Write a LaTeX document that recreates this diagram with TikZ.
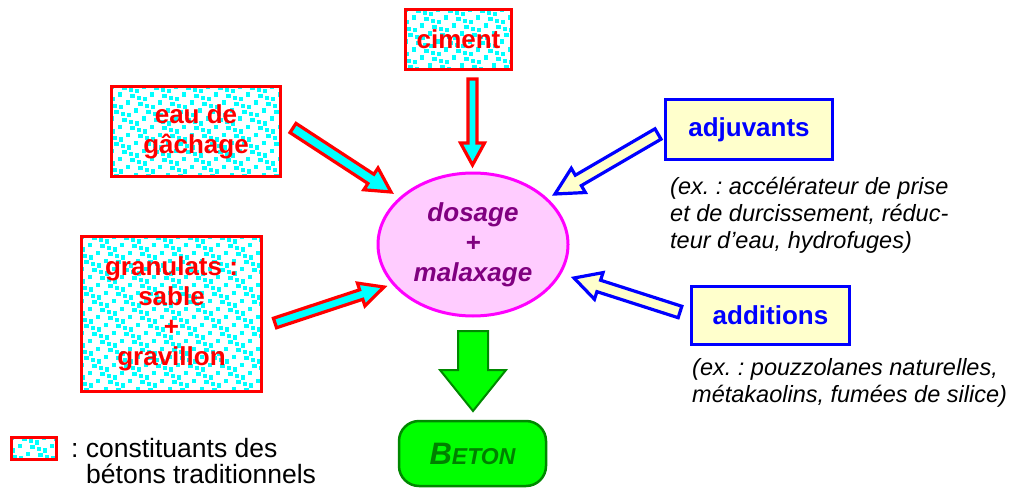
\documentclass[tikz,border=0pt]{standalone}
\usepackage{fontspec}
\setmainfont{Liberation Sans}
\usetikzlibrary{calc,shapes.geometric}
\definecolor{cfill}{HTML}{00FFFF}
\definecolor{redc}{HTML}{FF0000}
\definecolor{bluec}{HTML}{0000FF}
\definecolor{creme}{HTML}{FFFFCC}
\definecolor{rosef}{HTML}{FFCCFF}
\definecolor{magc}{HTML}{FF00FF}
\definecolor{purp}{HTML}{800080}
\definecolor{vertf}{HTML}{00FF00}
\definecolor{vertd}{HTML}{008800}
\definecolor{vertt}{HTML}{008000}
\frenchspacing
\newcommand\blockarr[6]{%
  \coordinate (hb) at ($(#3)!#6!(#2)$);
  \draw[#1] ($(#2)!#4!90:(#3)$) -- ($(hb)!#4!-90:(#2)$) -- ($(hb)!#5!-90:(#2)$) -- (#3)
    -- ($(hb)!#5!90:(#2)$) -- ($(hb)!#4!90:(#2)$) -- ($(#2)!#4!-90:(#3)$) -- cycle;}
\tikzset{
  confetti/.style={path picture={
    \path (path picture bounding box.north west) coordinate (pp1);
    \foreach \i in {0,...,24}{\foreach \j in {0,...,21}{
      \pgfmathsetmacro\dx{\i*8 + mod(\i*3+\j*5,4)*1.6 - 2}
      \pgfmathsetmacro\dy{\j*8 + mod(\i*5+\j*3,4)*1.6 - 2}
      \fill[cfill] ([shift={(\dx pt,-\dy pt)}]pp1) rectangle ++(4.2pt,-4.2pt);
    }}}},
  redbox/.style={draw=redc, line width=3.5pt, fill=white, confetti, inner sep=0pt,
    text=redc, align=center, font=\bfseries\fontsize{26}{30}\selectfont},
  bluebox/.style={draw=bluec, line width=3.5pt, fill=creme, inner sep=0pt,
    text=bluec, align=center, font=\bfseries\fontsize{26}{30}\selectfont},
  note/.style={anchor=north west, inner sep=0pt, align=left,
    font=\itshape\fontsize{23.5}{27}\selectfont},
  legtext/.style={anchor=base west, inner sep=0pt, font=\fontsize{26.5}{27}\selectfont},
  redarr/.style={draw=redc, line width=3.2pt, fill=cfill, line join=miter},
  bluearr/.style={draw=bluec, line width=3.2pt, fill=creme, line join=miter},
  greenarr/.style={draw=vertd, line width=2pt, fill=vertf, line join=miter},
}
\begin{document}
\begin{tikzpicture}[x=1pt,y=-1pt]
\useasboundingbox (0,0) rectangle (1016,492);
% boxes
\node[redbox, minimum width=106pt, minimum height=60pt] (ciment) at (458.5,39.5) {ciment};
\node[redbox, minimum width=169pt, minimum height=90pt] (eau) at (196,131.5) {eau de\\gâchage};
\node[redbox, minimum width=180pt, minimum height=155pt] (gran) at (171.5,314) {granulats :\\sable\\+\\gravillon};
\node[bluebox, minimum width=167pt, minimum height=60pt] (adj) at (749,129.5) {adjuvants};
\node[bluebox, minimum width=158pt, minimum height=58pt] (add) at (770.5,315.5) {additions};
% ellipse
\node[draw=magc, line width=3pt, fill=rosef, ellipse, minimum width=190pt, minimum height=143pt,
  text=purp, align=center, font=\bfseries\itshape\fontsize{26}{30}\selectfont, inner sep=0pt] (ell) at (473,244.5) {dosage\\+\\malaxage};
% Beton
\node[draw=vertd, line width=2.5pt, fill=vertf, rounded corners=20pt, minimum width=147pt,
  minimum height=65pt, text=vertt, font=\bfseries\itshape] (beton) at (472.5,453.5)
  {\fontsize{31}{31}\selectfont B\fontsize{23}{31}\selectfont ETON};
% notes
\node[note] (n1) at (670,177) {(ex. : accélérateur de prise\\et de durcissement, réduc-\\teur d’eau, hydrofuges)};
\node[note] (n2) at (692,358) {(ex. : pouzzolanes naturelles,\\métakaolins, fumées de silice)};
% legend
\node[draw=redc, line width=3pt, fill=white, confetti, minimum width=45pt, minimum height=22pt, inner sep=0pt] (leg) at (34,448.5) {};
\node[legtext] (legt1) at (71,457) {: constituants des};
\node[legtext] (legt2) at (86,483) {bétons traditionnels};
% arrow coordinates
\coordinate (c1) at (472.5,79);
\coordinate (c2) at (472.5,165);
\coordinate (e1) at (293,128);
\coordinate (e2) at (391,192);
\coordinate (g1) at (275,323);
\coordinate (g2) at (384,287);
\coordinate (a1) at (658,134);
\coordinate (a2) at (555,194);
\coordinate (d1) at (680,312);
\coordinate (d2) at (574,278);
\coordinate (v1) at (473,331);
\coordinate (v2) at (473,411);
\blockarr{redarr}{c1}{c2}{4.5pt}{12pt}{22pt}
\blockarr{redarr}{e1}{e2}{5.5pt}{13pt}{24pt}
\blockarr{redarr}{g1}{g2}{5pt}{12pt}{24pt}
\blockarr{bluearr}{a1}{a2}{6pt}{14pt}{27pt}
\blockarr{bluearr}{d1}{d2}{6pt}{14pt}{26pt}
\blockarr{greenarr}{v1}{v2}{15pt}{33pt}{41pt}
\end{tikzpicture}
\end{document}
